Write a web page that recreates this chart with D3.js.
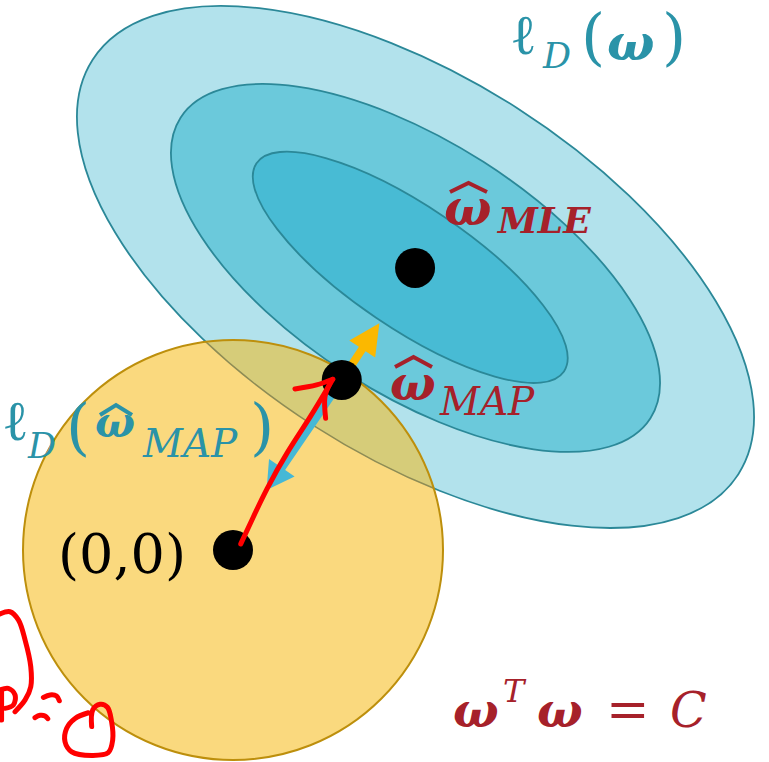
<!DOCTYPE html>
<html>
<head>
<meta charset="utf-8">
<script src="https://cdn.jsdelivr.net/npm/d3@7"></script>
<style>
    body { margin: 0; background: #fff; }
</style>
</head>
<body>
<svg id="chart" width="769" height="762"></svg>
<script>
// units: the prior ball w^T w = C has radius 1 and sits on (0,0)
const constraintC = 1;
const origin = [0, 0];
const wMLE = [0.867, 1.343];
const wMAP = [0.518, 0.810];

// contours of l_D(w), outer -> inner
const contourCx = [0.869, 0.869, 0.844];
const contourCy = [1.348, 1.343, 1.346];
const contourA = [1.827, 1.328, 0.884];
const contourB = [0.898, 0.600, 0.290];
const contourTilt = [32.7, 32.6, 34.1];

// arrows leaving w_MAP
const likelihoodTip = [0.697, 1.080];
const penaltyTip = [0.160, 0.286];

// red pen strokes
const penArrow = [[0.037, 0.029], [0.090, 0.143], [0.157, 0.286], [0.257, 0.467],
    [0.367, 0.629], [0.475, 0.813]];
const penHeadLeft = [[0.295, 0.767], [0.398, 0.786], [0.475, 0.813]];
const penHeadRight = [[0.462, 0.794], [0.438, 0.730], [0.441, 0.627]];
const scribbleCurve = [[-1.110, -0.305], [-1.062, -0.294], [-1.022, -0.333], [-0.990, -0.429],
    [-0.963, -0.556], [-0.963, -0.651], [-0.990, -0.714], [-1.038, -0.770]];
const scribbleStem = [[-1.102, -0.675], [-1.102, -0.810]];
const scribbleBowl = [[-1.110, -0.667], [-1.070, -0.659], [-1.038, -0.690], [-1.046, -0.738], [-1.086, -0.754]];
const scribbleDash1 = [[-0.903, -0.702], [-0.871, -0.690], [-0.840, -0.695], [-0.827, -0.718]];
const scribbleDash2 = [[-0.943, -0.798], [-0.919, -0.787], [-0.895, -0.790], [-0.882, -0.803]];
const scribbleLoop = [[-0.673, -0.841], [-0.668, -0.762], [-0.633, -0.735], [-0.598, -0.749],
    [-0.578, -0.818], [-0.573, -0.905], [-0.594, -0.965], [-0.673, -0.978], [-0.768, -0.961],
    [-0.800, -0.913], [-0.792, -0.849], [-0.752, -0.802], [-0.689, -0.775]];

const contourFill = ['#b2e2ec', '#6bc9db', '#48bbd4'];
const teal = '#2a93a8';
const darkRed = '#a6212a';
const serif = 'DejaVu Serif, Liberation Serif, serif';

const svg = d3.select('#chart');
const px = d3.scaleLinear().domain([0, 1]).range([233, 443]);
const py = d3.scaleLinear().domain([0, 1]).range([550, 340]);
const unit = px(1) - px(0);

svg.selectAll('ellipse.contour')
    .data(d3.range(contourA.length))
    .join('ellipse')
    .attr('class', 'contour')
    .attr('cx', (i) => px(contourCx[i]))
    .attr('cy', (i) => py(contourCy[i]))
    .attr('rx', (i) => contourA[i] * unit)
    .attr('ry', (i) => contourB[i] * unit)
    .attr('transform', (i) => `rotate(${contourTilt[i]} ${px(contourCx[i])} ${py(contourCy[i])})`)
    .attr('fill', (i) => contourFill[i])
    .attr('stroke', '#2b8898')
    .attr('stroke-width', 1.8);

svg.append('circle')
    .attr('cx', px(origin[0]))
    .attr('cy', py(origin[1]))
    .attr('r', constraintC * unit)
    .attr('fill', '#fad97e');

// overlap of ball and outer contour
svg.append('clipPath').attr('id', 'ballClip')
    .append('circle')
    .attr('cx', px(origin[0]))
    .attr('cy', py(origin[1]))
    .attr('r', constraintC * unit);

svg.append('g')
    .attr('clip-path', 'url(#ballClip)')
    .append('ellipse')
    .attr('cx', px(contourCx[0]))
    .attr('cy', py(contourCy[0]))
    .attr('rx', contourA[0] * unit)
    .attr('ry', contourB[0] * unit)
    .attr('transform', `rotate(${contourTilt[0]} ${px(contourCx[0])} ${py(contourCy[0])})`)
    .attr('fill', '#d6cc79')
    .attr('stroke', '#8e8c55')
    .attr('stroke-width', 1.5);

svg.append('circle')
    .attr('cx', px(origin[0]))
    .attr('cy', py(origin[1]))
    .attr('r', constraintC * unit)
    .attr('fill', 'none')
    .attr('stroke', '#bd8f0c')
    .attr('stroke-width', 2);

function arrowPoly(from, to, shaftW, headL, headW) {
    const x0 = px(from[0]); const y0 = py(from[1]);
    const x1 = px(to[0]); const y1 = py(to[1]);
    const len = Math.hypot(x1 - x0, y1 - y0);
    const ux = (x1 - x0) / len; const uy = (y1 - y0) / len;
    const nx = -uy; const ny = ux;
    const bx = x1 - ux * headL; const by = y1 - uy * headL;
    return [
        [x0 + nx * shaftW / 2, y0 + ny * shaftW / 2],
        [bx + nx * shaftW / 2, by + ny * shaftW / 2],
        [bx + nx * headW / 2, by + ny * headW / 2],
        [x1, y1],
        [bx - nx * headW / 2, by - ny * headW / 2],
        [bx - nx * shaftW / 2, by - ny * shaftW / 2],
        [x0 - nx * shaftW / 2, y0 - ny * shaftW / 2],
    ];
}

svg.append('path')
    .attr('d', `${d3.line()(arrowPoly(wMAP, likelihoodTip, 8, 31, 31))}Z`)
    .attr('fill', '#fbb800');
svg.append('path')
    .attr('d', `${d3.line()(arrowPoly(wMAP, penaltyTip, 8, 27, 31))}Z`)
    .attr('fill', '#45b8d6');

svg.selectAll('circle.pt')
    .data([wMLE, wMAP, origin])
    .join('circle')
    .attr('class', 'pt')
    .attr('cx', (d) => px(d[0]))
    .attr('cy', (d) => py(d[1]))
    .attr('r', 20)
    .attr('fill', '#000');

const pen = d3.line()
    .x((d) => px(d[0]))
    .y((d) => py(d[1]))
    .curve(d3.curveCatmullRom);

svg.append('path')
    .attr('d', pen.curve(d3.curveBasis)(penArrow))
    .attr('fill', 'none')
    .attr('stroke', '#ff0000')
    .attr('stroke-width', 5)
    .attr('stroke-linecap', 'round');
pen.curve(d3.curveCatmullRom);

svg.selectAll('path.pen')
    .data([penHeadLeft, penHeadRight, scribbleCurve, scribbleStem,
        scribbleBowl, scribbleDash1, scribbleDash2, scribbleLoop])
    .join('path')
    .attr('class', 'pen')
    .attr('d', pen)
    .attr('fill', 'none')
    .attr('stroke', '#ff0000')
    .attr('stroke-width', 5)
    .attr('stroke-linecap', 'round')
    .attr('stroke-linejoin', 'round');

function txt(x, y, s, size, color, italic, bold) {
    return svg.append('text')
        .attr('x', x)
        .attr('y', y)
        .attr('font-family', serif)
        .attr('font-size', size)
        .attr('font-style', italic ? 'italic' : 'normal')
        .attr('font-weight', bold ? 'bold' : 'normal')
        .attr('fill', color)
        .text(s);
}

function hat(x0, x1, yBase, yPeak, color) {
    svg.append('path')
        .attr('d', d3.line()([[x0, yBase], [(x0 + x1) / 2, yPeak], [x1, yBase]]))
        .attr('fill', 'none')
        .attr('stroke', color)
        .attr('stroke-width', 4)
        .attr('stroke-linejoin', 'miter');
}

// l_D(w), top right
txt(510, 54, 'ℓ', 56, teal, false, false);
txt(543, 68, 'D', 35, teal, true, false);
txt(581, 58, '(', 62, teal, false, false);
txt(607, 60, 'ω', 50, teal, true, true);
txt(662, 58, ')', 62, teal, false, false);

// w_MLE
txt(444, 225, 'ω', 50, darkRed, true, true);
hat(450, 487, 192, 183, darkRed);
txt(498, 233, 'MLE', 36, darkRed, true, true);

// w_MAP
txt(390, 400, 'ω', 48, darkRed, true, true);
hat(395, 432, 367, 357, darkRed);
txt(440, 415, 'MAP', 39, darkRed, true, false);

// l_D(w_MAP), left
txt(2, 440, 'ℓ', 56, teal, false, false);
txt(28, 458, 'D', 35, teal, true, false);
txt(66, 448, '(', 62, teal, false, false);
txt(95, 437, 'ω', 42, teal, true, true);
hat(100, 132, 415, 405, teal);
txt(143, 457, 'MAP', 39, teal, true, false);
txt(250, 448, ')', 62, teal, false, false);

// origin label
txt(58, 573, '(0,0)', 54, '#000', false, false);

// w^T w = C
txt(453, 727, 'ω', 48, darkRed, true, true);
txt(503, 702, 'T', 32, darkRed, true, false);
txt(537, 727, 'ω', 48, darkRed, true, true);
txt(606, 727, '=', 52, darkRed, false, false);
txt(670, 727, 'C', 48, darkRed, true, false);
</script>
</body>
</html>
